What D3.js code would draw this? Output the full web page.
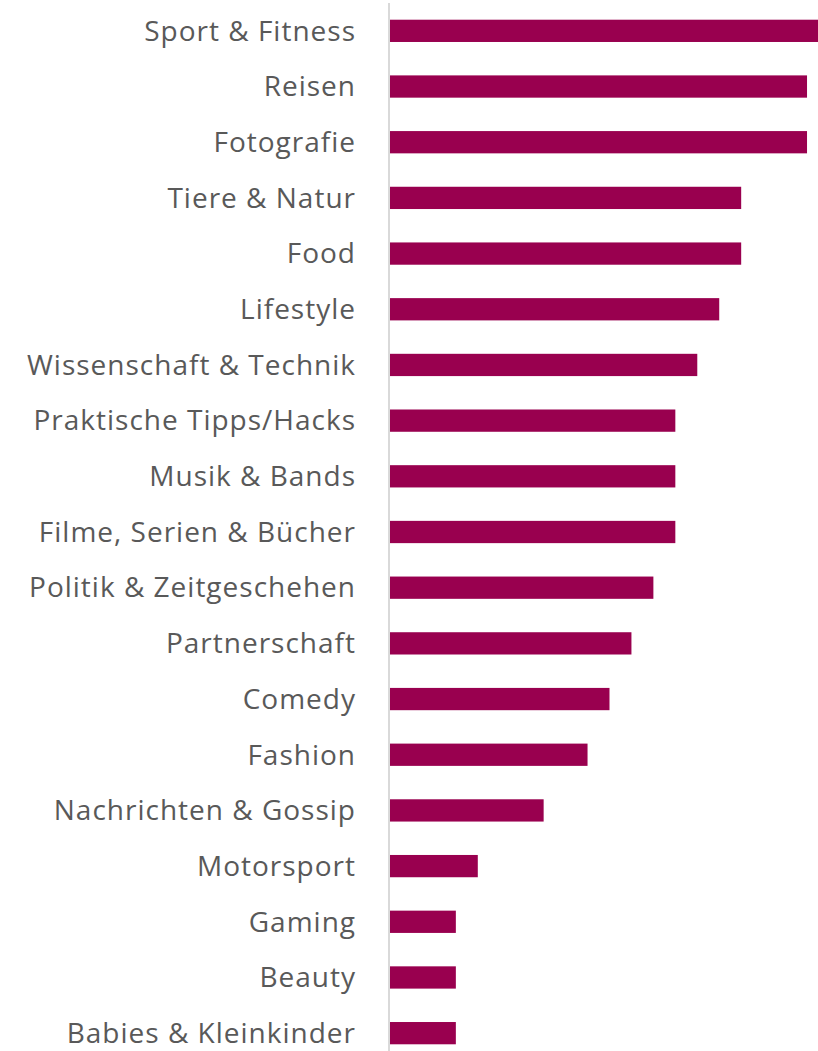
<!DOCTYPE html>
<html>
<head>
<meta charset="utf-8">
<script src="https://cdn.jsdelivr.net/npm/d3@7"></script>
<style>
  body { margin: 0; background: #fff; }
  svg { display: block; }
</style>
</head>
<body>
<div id="chart"></div>
<script>
// categories, top to bottom
const categories = [
  "Sport & Fitness", "Reisen", "Fotografie", "Tiere & Natur", "Food",
  "Lifestyle", "Wissenschaft & Technik", "Praktische Tipps/Hacks",
  "Musik & Bands", "Filme, Serien & Bücher", "Politik & Zeitgeschehen",
  "Partnerschaft", "Comedy", "Fashion", "Nachrichten & Gossip",
  "Motorsport", "Gaming", "Beauty", "Babies & Kleinkinder"
];
// values (percent)
const values = [39, 38, 38, 32, 32, 30, 28, 26, 26, 26, 24, 22, 20, 18, 14, 8, 6, 6, 6];

const width = 818, height = 1051;
const x0 = 390;

const svg = d3.select("#chart").append("svg")
    .attr("width", width)
    .attr("height", height);

const x = d3.scaleLinear().domain([0, 39]).range([x0, 818]);
const y = d3.scaleBand().domain(categories).range([3, 1061]).paddingInner(0.6).paddingOuter(0.3);

// bars
svg.selectAll("rect.bar")
    .data(categories)
    .enter()
    .append("rect")
    .attr("class", "bar")
    .attr("x", x(0))
    .attr("y", d => y(d))
    .attr("width", (d, i) => x(values[i]) - x(0))
    .attr("height", y.bandwidth())
    .attr("fill", "#99004f");

// category axis
const axis = svg.append("g")
    .attr("transform", `translate(${x0 - 1},0)`)
    .call(d3.axisLeft(y).tickSize(0).tickPadding(33));

axis.select(".domain")
    .attr("d", `M0,3V${height}`)
    .attr("stroke", "#d9d9d9")
    .attr("stroke-width", 2);

axis.selectAll("text")
    .attr("font-family", "'Open Sans', 'Noto Sans', sans-serif")
    .attr("font-size", 28)
    .attr("letter-spacing", 1)
    .attr("dy", "0.35em")
    .attr("fill", "#595959");
</script>
</body>
</html>
